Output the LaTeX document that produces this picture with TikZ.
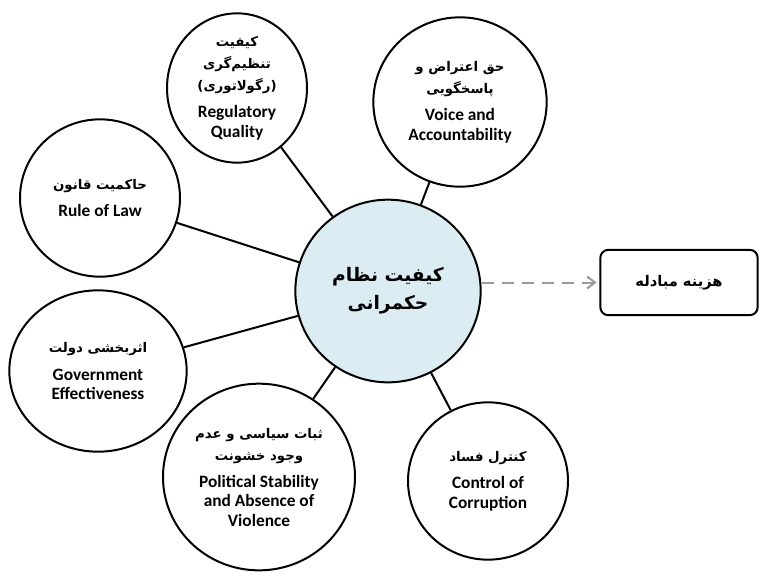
\documentclass[tikz,border=0pt]{standalone}
\usepackage{fontspec}
\setmainfont{Carlito}
\newfontfamily\fafont[Script=Arabic]{DejaVu Sans}
\TeXXeTstate=1
\usepackage{tikz}
\usetikzlibrary{arrows.meta, positioning, shapes.geometric}
\definecolor{coreblue}{RGB}{219, 236, 243}
\definecolor{arrowgray}{RGB}{155, 155, 155}
\newcommand{\fa}[1]{{\fafont\bfseries\fontsize{10}{14.5}\selectfont\beginR #1\endR}}

\begin{document}
\begin{tikzpicture}[x=0.75pt, y=-0.75pt,
    factor/.style={ellipse, draw, line width=1.5pt, inner sep=0pt, align=center,
        font=\bfseries\fontsize{13}{14.5}\selectfont},
    link/.style={line width=1.5pt},
]
    \useasboundingbox (0,0) rectangle (759,571);

    % 中心
    \node[factor, fill=coreblue, minimum width=139pt, minimum height=137pt,
        font=\fontsize{14}{21}\selectfont] (core) at (388,291)
        {{\fafont\bfseries\fontsize{14}{21}\selectfont\beginR کیفیت نظام\endR}\\
         {\fafont\bfseries\fontsize{14}{21}\selectfont\beginR حکمرانی\endR}};

    % 六个指标
    \node[factor, minimum width=105pt, minimum height=112pt] (reg) at (237,88)
        {\fa{کیفیت}\\[2pt]\fa{تنظیم‌گری}\\[2pt]\fa{(رگولاتوری)}\\[6pt]Regulatory\\Quality};
    \node[factor, minimum width=130pt, minimum height=127pt] (voice) at (460,102)
        {\fa{حق اعتراض و}\\[2pt]\fa{پاسخگویی}\\[6pt]Voice and\\Accountability};
    \node[factor, minimum width=120pt, minimum height=118pt] (law) at (100,198)
        {\fa{حاکمیت قانون}\\[6pt]Rule of Law};
    \node[factor, minimum width=133pt, minimum height=121pt] (gov) at (98,371)
        {\fa{اثربخشی دولت}\\[6pt]Government\\Effectiveness};
    \node[factor, minimum width=144pt, minimum height=140pt] (pol) at (259,477)
        {\fa{ثبات سیاسی و عدم}\\[2pt]\fa{وجود خشونت}\\[6pt]Political Stability\\and Absence of\\Violence};
    \node[factor, minimum width=120pt, minimum height=118pt] (ctrl) at (488,481)
        {\fa{کنترل فساد}\\[6pt]Control of\\Corruption};

    \foreach \n in {reg, voice, law, gov, pol, ctrl}
        \draw[link] (core) -- (\n);

    % 交易成本
    \node[draw, rounded corners=6pt, line width=1.5pt, minimum width=118pt,
        minimum height=49pt, font=\fontsize{11}{14}\selectfont] (cost) at (679,282.5)
        {{\fafont\bfseries\beginR هزینه مبادله\endR}};
    \draw[arrowgray, line width=1.5pt, dash pattern=on 9pt off 6pt,
        -{Straight Barb[length=6pt, width=9pt]}]
        (cost.west -| core.east) -- ([xshift=-2pt]cost.west);
\end{tikzpicture}
\end{document}
